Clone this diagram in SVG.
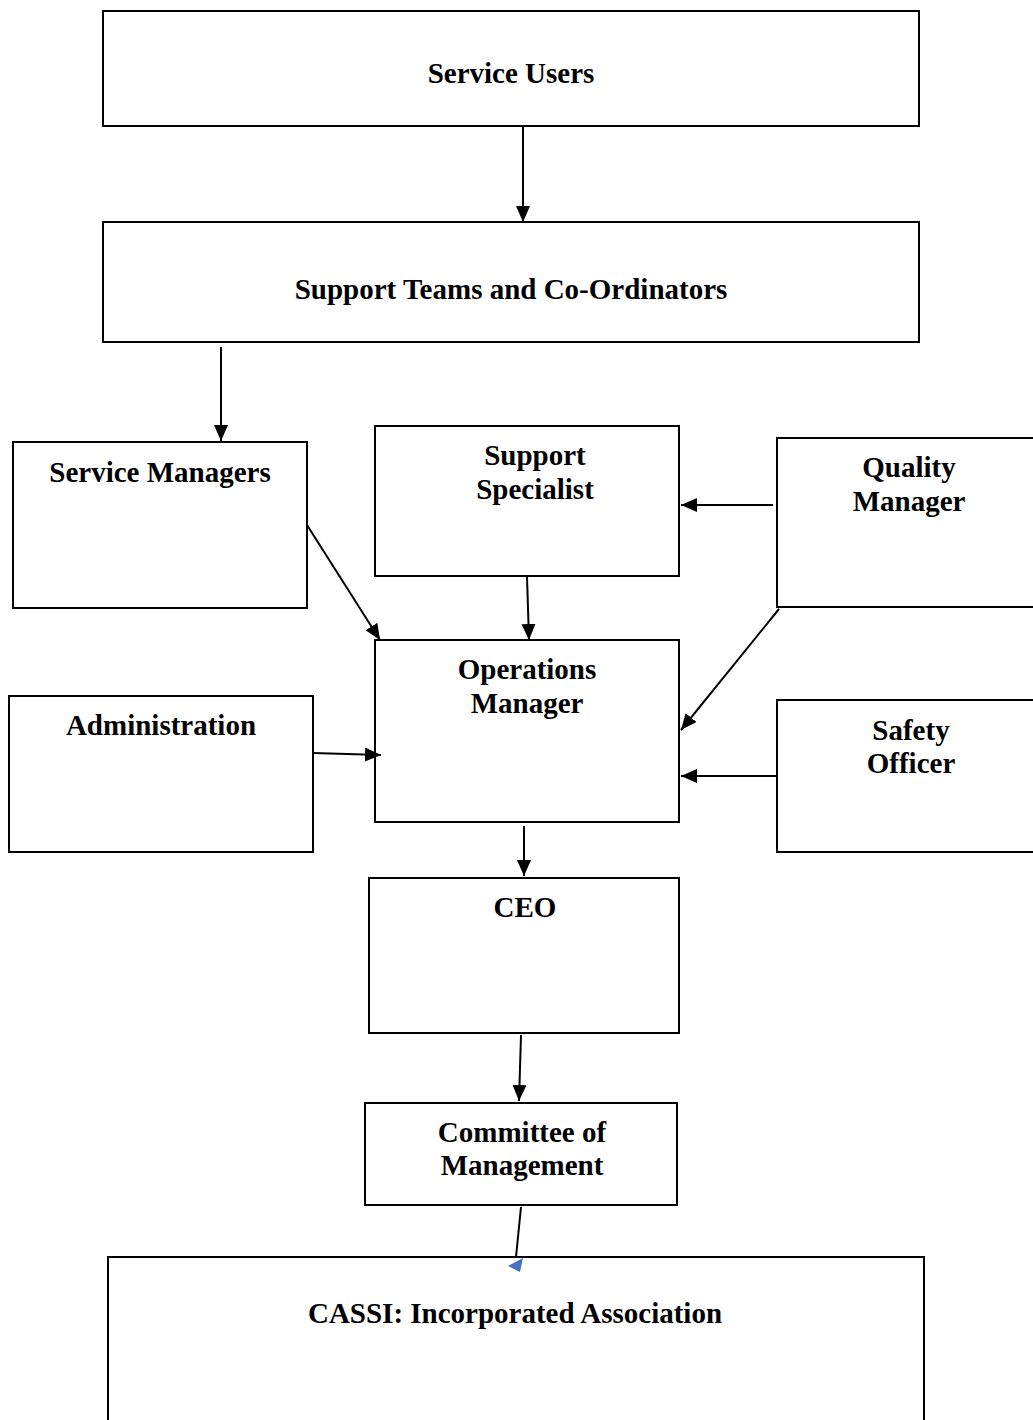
<svg xmlns="http://www.w3.org/2000/svg" width="1033" height="1420" viewBox="0 0 1033 1420">
<style>
.box{fill:#fff;stroke:#000;stroke-width:2}
.t{font-family:"Liberation Serif","Times New Roman",serif;font-weight:bold;font-size:29px;fill:#000;text-anchor:middle}
.c{stroke:#000;stroke-width:2;fill:none;marker-end:url(#ah)}
</style>
<defs>
<marker id="ah" viewBox="0 0 16 14" refX="16" refY="7" markerWidth="16" markerHeight="14" markerUnits="userSpaceOnUse" orient="auto"><path d="M0,0 L16,7 L0,14 z" fill="#000"/></marker>
</defs>
<rect width="1033" height="1420" fill="#fff"/>
<g id="service-users"><rect class="box" x="103" y="11" width="816" height="115"/><text class="t" x="511" y="83">Service Users</text></g>
<g id="support-teams"><rect class="box" x="103" y="222" width="816" height="120"/><text class="t" x="511" y="299">Support Teams and Co-Ordinators</text></g>
<g id="service-managers"><rect class="box" x="13" y="442" width="294" height="166"/><text class="t" x="160" y="482">Service Managers</text></g>
<g id="support-specialist"><rect class="box" x="375" y="426" width="304" height="150"/><text class="t" x="535" y="465">Support</text><text class="t" x="535" y="499">Specialist</text></g>
<g id="quality-manager"><rect class="box" x="777" y="438" width="270" height="169"/><text class="t" x="909" y="477">Quality</text><text class="t" x="909" y="511">Manager</text></g>
<g id="operations-manager"><rect class="box" x="375" y="640" width="304" height="182"/><text class="t" x="527" y="679">Operations</text><text class="t" x="527" y="713">Manager</text></g>
<g id="administration"><rect class="box" x="9" y="696" width="304" height="156"/><text class="t" x="161" y="735">Administration</text></g>
<g id="safety-officer"><rect class="box" x="777" y="700" width="270" height="152"/><text class="t" x="911" y="740">Safety</text><text class="t" x="911" y="773">Officer</text></g>
<g id="ceo"><rect class="box" x="369" y="878" width="310" height="155"/><text class="t" x="525" y="917">CEO</text></g>
<g id="committee"><rect class="box" x="365" y="1103" width="312" height="102"/><text class="t" x="522" y="1142">Committee of</text><text class="t" x="522" y="1175">Management</text></g>
<g id="cassi"><rect class="box" x="108" y="1257" width="816" height="180"/><text class="t" x="515" y="1323">CASSI: Incorporated Association</text></g>
<g id="connectors">
<line class="c" x1="523" y1="127" x2="523" y2="222"/>
<line class="c" x1="221" y1="347" x2="221" y2="441"/>
<line class="c" x1="307" y1="525" x2="380" y2="640"/>
<line class="c" x1="527" y1="577" x2="529" y2="640"/>
<line class="c" x1="773" y1="505" x2="681" y2="505"/>
<line class="c" x1="779" y1="609" x2="681" y2="730"/>
<line class="c" x1="313" y1="753" x2="381" y2="755"/>
<line class="c" x1="777" y1="776" x2="681" y2="776"/>
<line class="c" x1="524" y1="826" x2="524" y2="876"/>
<line class="c" x1="521" y1="1035" x2="519" y2="1101"/>
<line x1="521" y1="1207" x2="516" y2="1257" stroke="#000" stroke-width="2"/>
<path d="M508,1266 L523,1258 L520,1272 z" fill="#4472c4"/>
</g>
</svg>
